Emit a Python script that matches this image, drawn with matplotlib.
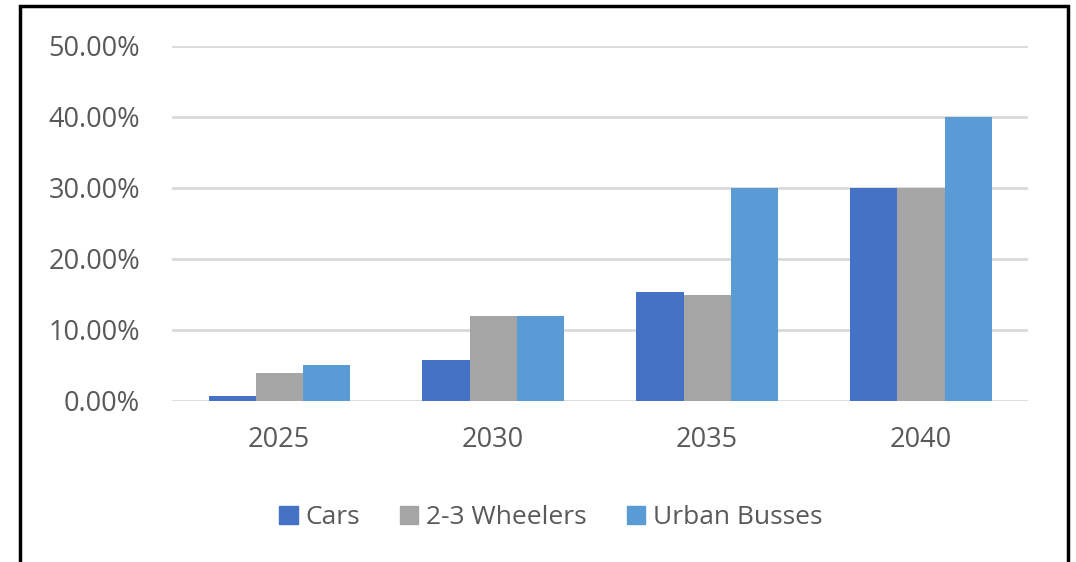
import numpy as np
import matplotlib.pyplot as plt
from matplotlib.patches import Patch, Rectangle
from matplotlib.ticker import FuncFormatter

years = ["2025", "2030", "2035", "2040"]
series = ["Cars", "2-3 Wheelers", "Urban Busses"]
cars = [0.007, 0.058, 0.153, 0.30]
wheelers = [0.040, 0.120, 0.149, 0.30]
busses = [0.050, 0.120, 0.30, 0.40]
colors = ["#4472C4", "#A5A5A5", "#5B9BD5"]

plt.rcParams['font.family'] = ['Open Sans', 'DejaVu Sans']
text_color = "#595959"

fig = plt.figure(figsize=(10.76, 5.62), dpi=100)
ax = fig.add_axes([0.16, 0.2865, 0.7954, 0.632])

x = np.arange(len(years))
w = 0.22
for i, (vals, c) in enumerate(zip([cars, wheelers, busses], colors)):
    ax.bar(x + (i - 1) * w, vals, width=w, color=c, zorder=3)

ax.set_xlim(-0.5, 3.5)
ax.set_ylim(0, 0.5)
ax.set_yticks(np.arange(0, 0.51, 0.1))
ax.yaxis.set_major_formatter(FuncFormatter(lambda v, p: f"{v * 100:.2f}%"))
ax.set_xticks(x)
ax.set_xticklabels(years)
ax.grid(axis='y', color="#D9D9D9", linewidth=2, zorder=0)
ax.tick_params(axis='both', length=0, labelsize=19.5, colors=text_color)
ax.tick_params(axis='y', pad=23)
ax.tick_params(axis='x', pad=18)
for s in ax.spines.values():
    s.set_visible(False)

handles = [Patch(color=c, label=s) for s, c in zip(series, colors)]
fig.legend(handles=handles, loc='center', bbox_to_anchor=(0.512, 0.079), ncol=3,
           frameon=False, fontsize=19, labelcolor=text_color,
           handlelength=0.7, handleheight=0.7, handletextpad=0.3, columnspacing=1.5)

# black frame around the chart (bottom edge is cut off in the original)
fig.patches.append(Rectangle((20 / 1076, -0.1), 1048 / 1076, 1.1 - 6 / 562,
                             transform=fig.transFigure, fill=False,
                             edgecolor='black', linewidth=2.5))

fig.savefig("out.png", dpi=100)
